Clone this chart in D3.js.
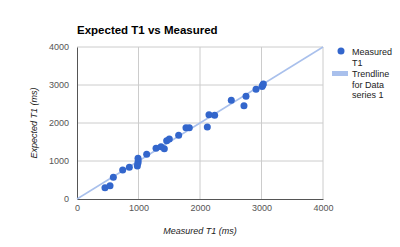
<!DOCTYPE html>
<html>
<head>
<meta charset="utf-8">
<script src="https://cdn.jsdelivr.net/npm/d3@7"></script>
<style>
  body { margin: 0; background: #fff; }
  text { font-family: Arial, "Liberation Sans", sans-serif; }
</style>
</head>
<body>
<div id="chart"></div>
<script>
/* DATA */
const measured = [455, 537, 591, 743, 851, 981, 990, 995, 992, 1133, 1285, 1366, 1420, 1458, 1501, 1653,
  1772, 1826, 2119, 2146, 2238, 2509, 2715, 2748, 2911, 3010, 3019, 3030];
const expected = [297, 350, 571, 763, 834, 868, 939, 1000, 1071, 1176, 1333, 1377, 1325, 1535, 1579, 1675,
  1877, 1877, 1895, 2219, 2202, 2597, 2456, 2702, 2886, 2960, 2991, 3026];
const trend = [[0, 0], [4000, 4000]];
const ticks = [0, 1000, 2000, 3000, 4000];
const legendLabels = [["Measured", "T1"], ["Trendline", "for Data", "series 1"]];

const width = 400, height = 247;
const margin = { top: 47, bottom: 48, left: 77, right: 77 };

const svg = d3.select("#chart").append("svg")
  .attr("width", width)
  .attr("height", height);

const xScale = d3.scaleLinear().domain([0, 4000]).range([margin.left, width - margin.right]);
const yScale = d3.scaleLinear().domain([0, 4000]).range([height - margin.bottom, margin.top]);

// gridlines
svg.append("g")
  .selectAll("line")
  .data(ticks.slice(1))
  .join("line")
  .attr("x1", d => xScale(d)).attr("x2", d => xScale(d))
  .attr("y1", yScale(0)).attr("y2", yScale(4000))
  .attr("stroke", "#cccccc");
svg.append("g")
  .selectAll("line")
  .data(ticks.slice(1))
  .join("line")
  .attr("y1", d => yScale(d)).attr("y2", d => yScale(d))
  .attr("x1", xScale(0)).attr("x2", xScale(4000))
  .attr("stroke", "#cccccc");

// axes
const xAxis = d3.axisBottom(xScale).tickValues(ticks).tickFormat(d3.format("d")).tickSize(0).tickPadding(6);
const yAxis = d3.axisLeft(yScale).tickValues(ticks).tickFormat(d3.format("d")).tickSize(0).tickPadding(8);

const xAxisGroup = svg.append("g")
  .attr("transform", `translate(0, ${yScale(0)})`)
  .call(xAxis);
const yAxisGroup = svg.append("g")
  .attr("transform", `translate(${xScale(0)}, 0)`)
  .call(yAxis);
[xAxisGroup, yAxisGroup].forEach(g => {
  g.select(".domain").attr("stroke", "#555555");
  g.selectAll("text").attr("font-size", 9).attr("fill", "#555555")
    .attr("font-family", "Arial, 'Liberation Sans', sans-serif");
});

// trendline
const lineGen = d3.line().x(d => xScale(d[0])).y(d => yScale(d[1]));
svg.append("path")
  .datum(trend)
  .attr("d", lineGen)
  .attr("fill", "none")
  .attr("stroke", "#a9c0ec")
  .attr("stroke-width", 1.5);

// points
svg.append("g")
  .selectAll("circle")
  .data(measured.map((m, i) => [m, expected[i]]))
  .join("circle")
  .attr("cx", d => xScale(d[0]))
  .attr("cy", d => yScale(d[1]))
  .attr("r", 3.5)
  .attr("fill", "#3366cc");

// title
svg.append("text")
  .attr("x", 77).attr("y", 34)
  .attr("font-size", 11.5)
  .attr("font-weight", "bold")
  .attr("fill", "#000")
  .text("Expected T1 vs Measured");

// axis titles
svg.append("text")
  .attr("x", (xScale(0) + xScale(4000)) / 2)
  .attr("y", 234)
  .attr("text-anchor", "middle")
  .attr("font-size", 9)
  .attr("font-style", "italic")
  .attr("fill", "#222")
  .text("Measured T1 (ms)");
svg.append("text")
  .attr("transform", `translate(37, ${(yScale(0) + yScale(4000)) / 2}) rotate(-90)`)
  .attr("text-anchor", "middle")
  .attr("font-size", 9)
  .attr("font-style", "italic")
  .attr("fill", "#222")
  .text("Expected T1 (ms)");

// legend
const legend = svg.append("g");
legend.append("circle")
  .attr("cx", 341).attr("cy", 51).attr("r", 3.5).attr("fill", "#3366cc");
legend.append("rect")
  .attr("x", 332).attr("y", 71).attr("width", 16).attr("height", 5).attr("fill", "#a9c0ec");
legend.append("g").selectAll("text")
  .data(legendLabels[0])
  .join("text")
  .attr("x", 352).attr("y", (d, i) => 55 + i * 10.5)
  .attr("font-size", 9).attr("fill", "#222")
  .text(d => d);
legend.append("g").selectAll("text")
  .data(legendLabels[1])
  .join("text")
  .attr("x", 352).attr("y", (d, i) => 77 + i * 10.5)
  .attr("font-size", 9).attr("fill", "#222")
  .text(d => d);
</script>
</body>
</html>
